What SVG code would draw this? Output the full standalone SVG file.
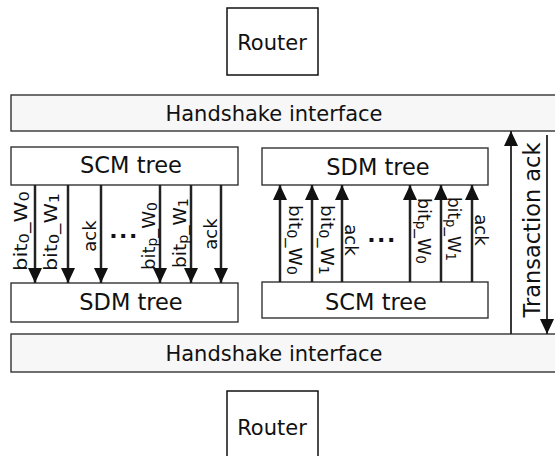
<svg xmlns="http://www.w3.org/2000/svg" width="555" height="456" viewBox="0 0 555 456">
<defs>
<marker id="ah" viewBox="0 0 15 14" refX="15" refY="7" markerWidth="15" markerHeight="14" markerUnits="userSpaceOnUse" orient="auto">
<path d="M0,0 L15,7 L0,14 Z" fill="#111"/>
</marker>
<style>
.box{fill:#fff;stroke:#333;stroke-width:1.4}
.hs{fill:#f7f7f7;stroke:#333;stroke-width:1.4}
.rt{fill:#fff;stroke:#111;stroke-width:1.5}
.big{font-family:"DejaVu Sans",sans-serif;font-size:21px;fill:#111;text-anchor:middle}
.tree{font-size:22.5px}
.lbl{font-family:"DejaVu Sans",sans-serif;font-size:18px;fill:#111;text-anchor:middle}
.sub{font-size:14px}
.dots{font-family:"DejaVu Sans",sans-serif;font-size:22px;font-weight:bold;fill:#111;text-anchor:middle;letter-spacing:1.5px}
.arr{stroke:#222;stroke-width:2.5;fill:none;marker-end:url(#ah)}
.thin{stroke:#222;stroke-width:1.8;fill:none;marker-end:url(#ah)}
</style>
</defs>
<g id="router-top"><rect class="rt" x="227" y="8" width="91" height="67"/><text class="big" x="272" y="50">Router</text></g>
<g id="handshake-top"><rect class="hs" x="11" y="95" width="560" height="36"/><text class="big" x="274" y="121">Handshake interface</text></g>
<g id="scm-left"><rect class="box" x="11" y="147" width="227" height="38"/><text class="big tree" x="131" y="173">SCM tree</text></g>
<g id="sdm-left"><rect class="box" x="11" y="283" width="227" height="39"/><text class="big tree" x="131" y="310">SDM tree</text></g>
<g id="sdm-right"><rect class="box" x="262" y="148" width="226" height="37"/><text class="big tree" x="378" y="175">SDM tree</text></g>
<g id="scm-right"><rect class="box" x="262" y="282" width="226" height="36"/><text class="big tree" x="376" y="310">SCM tree</text></g>
<g id="handshake-bottom"><rect class="hs" x="11" y="334" width="560" height="38"/><text class="big" x="274" y="361">Handshake interface</text></g>
<g id="router-bottom"><rect class="rt" x="227" y="391" width="91" height="80"/><text class="big" x="272" y="435">Router</text></g>
<g id="connectors">
<line class="arr" x1="35" y1="185" x2="35" y2="283"/>
<line class="arr" x1="68" y1="185" x2="68" y2="283"/>
<line class="arr" x1="101" y1="185" x2="101" y2="283"/>
<line class="arr" x1="160" y1="185" x2="160" y2="283"/>
<line class="arr" x1="191" y1="185" x2="191" y2="283"/>
<line class="arr" x1="221" y1="185" x2="221" y2="283"/>
<line class="arr" x1="280" y1="282" x2="280" y2="185"/>
<line class="arr" x1="312" y1="282" x2="312" y2="185"/>
<line class="arr" x1="342" y1="282" x2="342" y2="185"/>
<line class="arr" x1="410" y1="282" x2="410" y2="185"/>
<line class="arr" x1="441" y1="282" x2="441" y2="185"/>
<line class="arr" x1="472" y1="282" x2="472" y2="185"/>
<line class="thin" x1="511" y1="334" x2="511" y2="131"/>
<line class="thin" x1="547" y1="135" x2="547" y2="334"/>
</g>
<g id="labels">
<text class="lbl" transform="translate(27,231) rotate(-90)" textLength="80" lengthAdjust="spacingAndGlyphs">bit<tspan class="sub" baseline-shift="-2">0</tspan>_W<tspan class="sub" baseline-shift="-2">0</tspan></text>
<text class="lbl" transform="translate(57,232) rotate(-90)" textLength="78" lengthAdjust="spacingAndGlyphs">bit<tspan class="sub" baseline-shift="-2">0</tspan>_W<tspan class="sub" baseline-shift="-2">1</tspan></text>
<text class="lbl" transform="translate(96,236) rotate(-90)">ack</text>
<text class="lbl" transform="translate(155,236) rotate(-90)" textLength="68" lengthAdjust="spacingAndGlyphs">bit<tspan class="sub" baseline-shift="-2">p</tspan>_W<tspan class="sub" baseline-shift="-2">0</tspan></text>
<text class="lbl" transform="translate(186,233) rotate(-90)" textLength="70" lengthAdjust="spacingAndGlyphs">bit<tspan class="sub" baseline-shift="-2">p</tspan>_W<tspan class="sub" baseline-shift="-2">1</tspan></text>
<text class="lbl" transform="translate(217,234) rotate(-90)">ack</text>
<text class="dots" x="124" y="238">...</text>
<text class="lbl" transform="translate(289,240) rotate(90)" textLength="70" lengthAdjust="spacingAndGlyphs">bit<tspan class="sub" baseline-shift="-2">0</tspan>_W<tspan class="sub" baseline-shift="-2">0</tspan></text>
<text class="lbl" transform="translate(321,240) rotate(90)" textLength="70" lengthAdjust="spacingAndGlyphs">bit<tspan class="sub" baseline-shift="-2">0</tspan>_W<tspan class="sub" baseline-shift="-2">1</tspan></text>
<text class="lbl" transform="translate(345,240) rotate(90)">ack</text>
<text class="lbl" transform="translate(418,231) rotate(90)" textLength="66" lengthAdjust="spacingAndGlyphs">bit<tspan class="sub" baseline-shift="-2">p</tspan>_W<tspan class="sub" baseline-shift="-2">0</tspan></text>
<text class="lbl" transform="translate(448,229) rotate(90)" textLength="64" lengthAdjust="spacingAndGlyphs">bit<tspan class="sub" baseline-shift="-2">p</tspan>_W<tspan class="sub" baseline-shift="-2">1</tspan></text>
<text class="lbl" transform="translate(475,230) rotate(90)">ack</text>
<text class="dots" x="382" y="242">...</text>
<text class="big tree" transform="translate(540,230) rotate(-90)">Transaction ack</text>
</g>
</svg>
